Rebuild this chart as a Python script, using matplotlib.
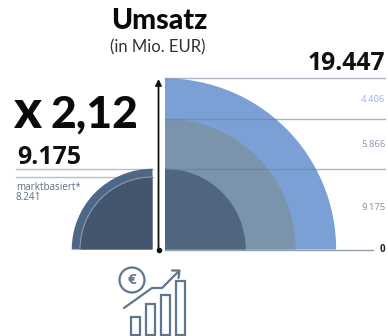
import matplotlib
matplotlib.use('Agg')
import matplotlib.pyplot as plt
from matplotlib.patches import Wedge, Circle, Rectangle, Arc

# Werte in Mio. EUR
segment_labels = ['4.406', '5.866', '9.175']
gesamt_rechts = 19447
grenze_mitte = 14850
grenze_innen = 9175
gesamt_links = 9175
marktbasiert = 8241

px_pro_mio = 0.00880
basis_y = 249.5
mitte_rechts = 165
mitte_links = 152.5


def punkt(wert):
    return f'{wert:,}'.replace(',', '.')


fig = plt.figure(figsize=(3.88, 3.36), dpi=100)
ax = fig.add_axes([0, 0, 1, 1])
ax.set_xlim(0, 388)
ax.set_ylim(336, 0)
ax.axis('off')

# Viertelkreise rechts, von aussen nach innen
radien = [gesamt_rechts, grenze_mitte, grenze_innen]
farben = ['#7BA0D5', '#7A94AB', '#50667F']
for wert, farbe in zip(radien, farben):
    r = wert * px_pro_mio
    ax.add_patch(Wedge((mitte_rechts, basis_y), r, 270, 360, fc=farbe, ec='none', zorder=2))

# Viertelkreise links (y-Achse ist gedreht)
r_links = gesamt_links * px_pro_mio
r_markt = marktbasiert * px_pro_mio
ax.add_patch(Wedge((mitte_links, basis_y), r_links, 180, 270, fc='#4E6787', ec='none', zorder=2))
ax.add_patch(Wedge((mitte_links, basis_y), r_markt, 180, 270, fc='#43566E', ec='none', zorder=3))
ax.add_patch(Arc((mitte_links, basis_y), 2 * r_markt, 2 * r_markt, theta1=180, theta2=270,
                 color='#8C9CAE', lw=0.8, zorder=4))

# Hilfslinien rechts
for wert in radien:
    y = basis_y - wert * px_pro_mio
    ax.plot([mitte_rechts, 385], [y, y], color='#6F8099', lw=1.0, alpha=0.6, zorder=4)
ax.plot([mitte_rechts, 373], [basis_y, basis_y], color='#6F8099', lw=1.0, alpha=0.75, zorder=4)

# Hilfslinien links
ax.plot([16, mitte_links], [basis_y - r_links] * 2, color='#B4BFCC', lw=1.0, zorder=1)
ax.plot([16, mitte_links], [basis_y - r_markt] * 2, color='#B4BFCC', lw=1.0, zorder=1)

# Pfeil in der Mitte
ax.annotate('', xy=(158.5, 79), xytext=(158.5, basis_y), zorder=5,
            arrowprops=dict(arrowstyle='-|>', color='#111111', lw=1.3,
                            mutation_scale=9, shrinkA=0, shrinkB=0))
ax.plot([158.5], [basis_y], 'o', color='#111111', ms=3, zorder=5)

# Texte
ax.text(159, 21, 'Umsatz', ha='center', va='center', fontsize=20.5,
        family='Lato', fontweight='black', color='#0A0A0A')
ax.text(158, 47, '(in Mio. EUR)', ha='center', va='center', fontsize=12,
        family='Lato', color='#333333')
ax.text(13, 128, 'x', ha='left', va='baseline', fontsize=38,
        family='Lato', fontweight='black', color='#0A0A0A')
ax.text(138, 128, '2,12', ha='right', va='baseline', fontsize=32,
        family='Lato', fontweight='black', color='#0A0A0A')
ax.text(17, 157, punkt(gesamt_links), ha='left', va='center', fontsize=18,
        family='Open Sans', fontweight='bold', color='#111111')
ax.text(16, 187, 'marktbasiert*', ha='left', va='center', fontsize=7.1,
        family='Open Sans', color='#5C6F86')
ax.text(16, 198, punkt(marktbasiert), ha='left', va='center', fontsize=7.1,
        family='Open Sans', color='#5C6F86')
ax.text(385, 64, punkt(gesamt_rechts), ha='right', va='center', fontsize=17.8,
        family='Open Sans', fontweight='bold', color='#111111')

label_y = [99.5, 144.5, 207]
label_farben = ['#9DB5DC', '#8A9BB0', '#8290A3']
for text, y, farbe in zip(segment_labels, label_y, label_farben):
    ax.text(385.5, y, text, ha='right', va='center', fontsize=6.8, family='Open Sans', color=farbe)
ax.text(385.5, 249.5, '0', ha='right', va='center', fontsize=7, family='Open Sans',
        fontweight='bold', color='#222222')

# Icon unten
icon = '#5F7590'
for x0, y0 in [(131, 317), (146, 304), (161, 295), (176, 281)]:
    ax.add_patch(Rectangle((x0, y0), 8.5, 335 - y0, fc='white', ec=icon, lw=1.6))
ax.add_patch(Circle((132, 280), 12.5, fc='white', ec=icon, lw=1.6))
ax.text(132, 280, '€', ha='center', va='center', fontsize=11, family='Open Sans',
        fontweight='bold', color=icon)
ax.plot([124, 152, 162, 179], [308, 288, 288, 271], color=icon, lw=1.6, solid_capstyle='round')
ax.plot([172, 179.5, 178.5], [270.5, 270.5, 278], color=icon, lw=1.6, solid_capstyle='round')

plt.savefig('out.png', dpi=100)
